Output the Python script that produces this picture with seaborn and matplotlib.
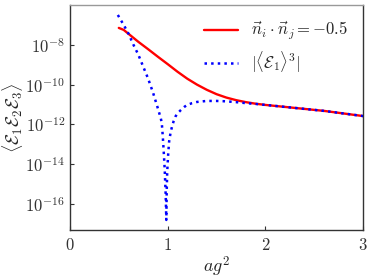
import numpy as np
import pandas as pd
import seaborn as sns
import matplotlib.pyplot as plt

# values (log10 of the correlator)
red_x = [0.5, 0.55, 0.6, 0.7, 0.8, 0.9, 1.0, 1.1, 1.2, 1.3, 1.4, 1.5, 1.6,
         1.7, 1.8, 1.9, 2.0, 2.2, 2.4, 2.6, 2.8, 3.0]
red_log = [-7.15, -7.25, -7.45, -7.85, -8.22, -8.6, -8.97, -9.35, -9.7, -10.0,
           -10.26, -10.48, -10.65, -10.78, -10.88, -10.96, -11.02, -11.12,
           -11.22, -11.32, -11.45, -11.58]

blue_x = [0.49, 0.55, 0.6, 0.65, 0.7, 0.75, 0.8, 0.85, 0.9, 0.93, 0.94, 0.95,
          0.96, 0.97, 0.98, 0.986, 0.99, 0.995, 1.005, 1.015, 1.03, 1.045,
          1.06, 1.08, 1.1, 1.13, 1.17, 1.2, 1.25, 1.3, 1.4, 1.5, 1.6, 1.7,
          1.8, 1.9, 2.0, 2.2, 2.4, 2.6, 2.8, 3.0]
blue_log = [-6.5, -7.0, -7.45, -8.0, -8.5, -9.1, -9.7, -10.4, -11.2, -11.7,
            -11.95, -12.6, -13.4, -14.3, -15.6, -16.8, -15.4, -14.4, -13.5,
            -12.85, -12.4, -12.1, -11.85, -11.6, -11.45, -11.3, -11.12, -11.02,
            -10.93, -10.87, -10.82, -10.82, -10.84, -10.88, -10.93, -10.97,
            -11.02, -11.12, -11.22, -11.32, -11.45, -11.58]

red_label = r"$\vec{n}_i\cdot\vec{n}_j=-0.5$"
blue_label = r"$|\langle\mathcal{E}_1\rangle^3|$"

red_df = pd.DataFrame({"x": red_x, "y": np.power(10.0, red_log)})
blue_df = pd.DataFrame({"x": blue_x, "y": np.power(10.0, blue_log)})

sns.set_style("ticks")
plt.rcParams["font.family"] = ["cmr10", "DejaVu Serif"]
plt.rcParams["mathtext.fontset"] = "cm"
plt.rcParams["axes.formatter.use_mathtext"] = True

fig = plt.figure(figsize=(3.74, 2.79), dpi=100)
ax = fig.add_axes([0.187, 0.176, 0.784, 0.806])

sns.lineplot(data=red_df, x="x", y="y", color="red", lw=1.7,
             label=red_label, ax=ax)
sns.lineplot(data=blue_df, x="x", y="y", color="blue", lw=1.8,
             linestyle=":", label=blue_label, ax=ax)

ax.set_yscale("log")
ax.set_xlim(0, 3)
ax.set_ylim(10 ** -17.3, 1e-6)
ax.set_xticks([0, 1, 2, 3])
ax.set_yticks([1e-16, 1e-14, 1e-12, 1e-10, 1e-8])
ax.yaxis.set_minor_locator(plt.NullLocator())
ax.tick_params(direction="in", length=3, width=0.8, labelsize=12,
               top=False, right=False, colors="#333333")
ax.tick_params(axis="x", pad=5)

for s in ax.spines.values():
    s.set_color("#333333")
    s.set_linewidth(1.0)
ax.spines["top"].set_color("#999999")

ax.set_xlabel(r"$ag^2$", fontsize=13, labelpad=1)
ax.set_ylabel(r"$\langle\mathcal{E}_1\mathcal{E}_2\mathcal{E}_3\rangle$",
              fontsize=13, labelpad=0)

ax.legend(loc="upper right", frameon=False, fontsize=12, handlelength=2.0,
          labelspacing=0.45, borderaxespad=0.5)

plt.savefig("out.png", dpi=100)
plt.close()
